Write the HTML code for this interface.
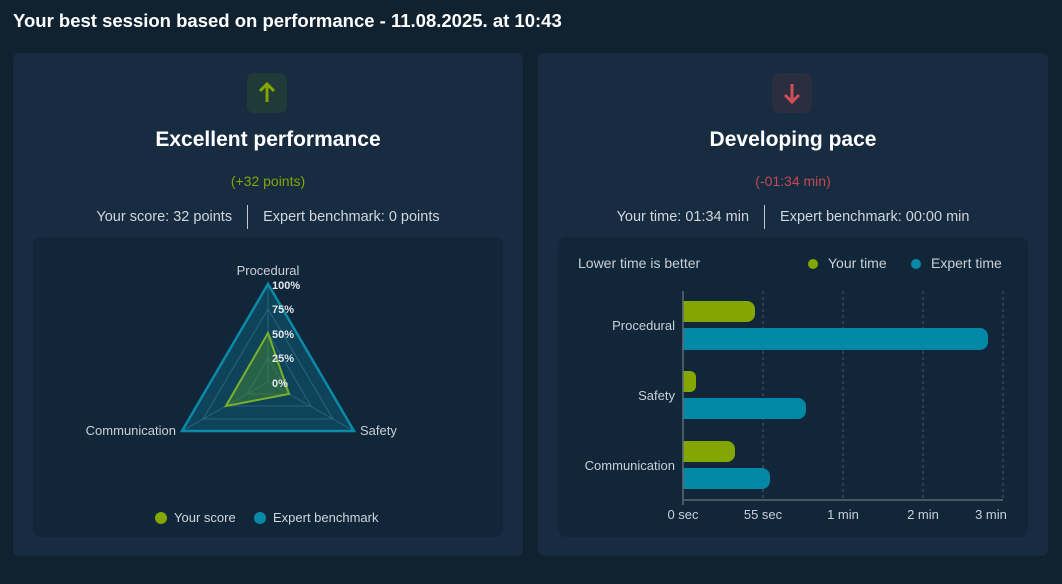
<!DOCTYPE html>
<html><head><style>
body{margin:0;width:1062px;height:584px;background:#10222f;font-family:"Liberation Sans",sans-serif;color:#fff;overflow:hidden;position:relative}
.t{position:absolute;left:13px;top:10px;font-size:18.5px;font-weight:bold}
.card{position:absolute;top:53px;width:510px;height:503px;background:#172b41;border-radius:6px}
.inner{position:absolute;top:184px;left:20px;width:470px;height:300px;background:#12263a;border-radius:8px}
.ic{position:absolute;top:20px;width:40px;height:40px;border-radius:7px;left:234px}
.h{position:absolute;top:75px;width:100%;text-align:center;font-size:21px;font-weight:bold}
.d{position:absolute;top:120px;width:100%;text-align:center;font-size:14px}
.s{position:absolute;top:152px;width:100%;text-align:center;font-size:14.5px;color:#d0d6dc}
.s span{display:inline-block;padding:0 15px}
.s .sep{border-left:1px solid #c0c8d0;height:24px;vertical-align:middle;padding:0}
</style></head><body>
<div class="t">Your best session based on performance - 11.08.2025. at 10:43</div>
<div class="card" style="left:13px">
 <div class="ic" style="background:#1f3a38"><svg width="40" height="40"><path d="M20 29V12M13 18l7-7 7 7" stroke="#84a600" stroke-width="3" fill="none"/></svg></div>
 <div class="h">Excellent performance</div>
 <div class="d" style="color:#84a600">(+32 points)</div>
 <div class="s"><span>Your score: 32 points</span><span class="sep"></span><span>Expert benchmark: 0 points</span></div>
 <div class="inner"></div>
</div>
<div class="card" style="left:538px">
 <div class="ic" style="background:#2a2e3e"><svg width="40" height="40"><path d="M20 11V28M13 22l7 7 7-7" stroke="#d24d57" stroke-width="3" fill="none"/></svg></div>
 <div class="h">Developing pace</div>
 <div class="d" style="color:#c24a52">(-01:34 min)</div>
 <div class="s"><span>Your time: 01:34 min</span><span class="sep"></span><span>Expert benchmark: 00:00 min</span></div>
 <div class="inner"></div>
</div>
<svg width="1062" height="584" style="position:absolute;left:0;top:0" font-family="Liberation Sans,sans-serif">
 <g fill="none" stroke="#3a5a6a" stroke-width="1">
  <polygon points="268,309 333,419 203,419"/>
  <polygon points="268,333 311,406 225,406"/>
  <polygon points="268,358 289,394 247,394"/>
  <line x1="268" y1="382" x2="268" y2="284"/><line x1="268" y1="382" x2="182" y2="431"/><line x1="268" y1="382" x2="354" y2="431"/>
 </g>
 <polygon points="268,284 354,431 182,431" fill="#0a7a99" fill-opacity="0.35" stroke="#0a8aa8" stroke-width="2.5"/>
 <polygon points="268,333 289,394 226,406" fill="#4a8a30" fill-opacity="0.45" stroke="#7bb02a" stroke-width="2"/>
 <g fill="#e0e6ea" font-size="11" font-weight="bold">
  <text x="272" y="289">100%</text><text x="272" y="313">75%</text><text x="272" y="338">50%</text><text x="272" y="362">25%</text><text x="272" y="387">0%</text>
 </g>
 <g fill="#c8d0d8" font-size="13">
  <text x="268" y="275" text-anchor="middle">Procedural</text>
  <text x="176" y="435" text-anchor="end">Communication</text>
  <text x="360" y="435">Safety</text>
 </g>
 <circle cx="161" cy="518" r="6" fill="#84a600"/><text x="174" y="522" fill="#d0d6dc" font-size="13">Your score</text>
 <circle cx="260" cy="518" r="6" fill="#0a89a6"/><text x="273" y="522" fill="#d0d6dc" font-size="13">Expert benchmark</text>

 <text x="578" y="268" fill="#c8d0d8" font-size="14">Lower time is better</text>
 <circle cx="813" cy="264" r="5" fill="#84a600"/><text x="828" y="268" fill="#c8d0d8" font-size="14">Your time</text>
 <circle cx="916" cy="264" r="5" fill="#0a89a6"/><text x="931" y="268" fill="#c8d0d8" font-size="14">Expert time</text>
 <g stroke="#4a5a66" stroke-dasharray="3,3"><line x1="763" y1="291" x2="763" y2="500"/><line x1="843" y1="291" x2="843" y2="500"/><line x1="923" y1="291" x2="923" y2="500"/><line x1="1003" y1="291" x2="1003" y2="500"/></g>
 <g stroke="#5a6a74" stroke-width="1.5"><line x1="683" y1="500" x2="1003" y2="500"/>
 <line x1="678" y1="326" x2="683" y2="326"/><line x1="678" y1="396" x2="683" y2="396"/><line x1="678" y1="466" x2="683" y2="466"/></g>
 <g>
  <rect x="673" y="301" width="82" height="21" rx="8" fill="#84a600"/>
  <rect x="673" y="328" width="315" height="22" rx="8" fill="#0088a6"/>
  <rect x="673" y="371" width="23" height="21" rx="6" fill="#84a600"/>
  <rect x="673" y="398" width="133" height="21" rx="8" fill="#0088a6"/>
  <rect x="673" y="441" width="62" height="21" rx="8" fill="#84a600"/>
  <rect x="673" y="468" width="97" height="21" rx="8" fill="#0088a6"/>
 </g>
 <rect x="670" y="295" width="12.3" height="200" fill="#12263a"/>
 <line x1="683" y1="291" x2="683" y2="505" stroke="#5a6a74" stroke-width="1.5"/>
 <g fill="#c8d0d8" font-size="13" text-anchor="end">
  <text x="675" y="330">Procedural</text><text x="675" y="400">Safety</text><text x="675" y="470">Communication</text>
 </g>
 <g fill="#c8d0d8" font-size="13" text-anchor="middle">
  <text x="683" y="519">0 sec</text><text x="763" y="519">55 sec</text><text x="843" y="519">1 min</text><text x="923" y="519">2 min</text><text x="991" y="519">3 min</text>
 </g>
</svg>
</body></html>
